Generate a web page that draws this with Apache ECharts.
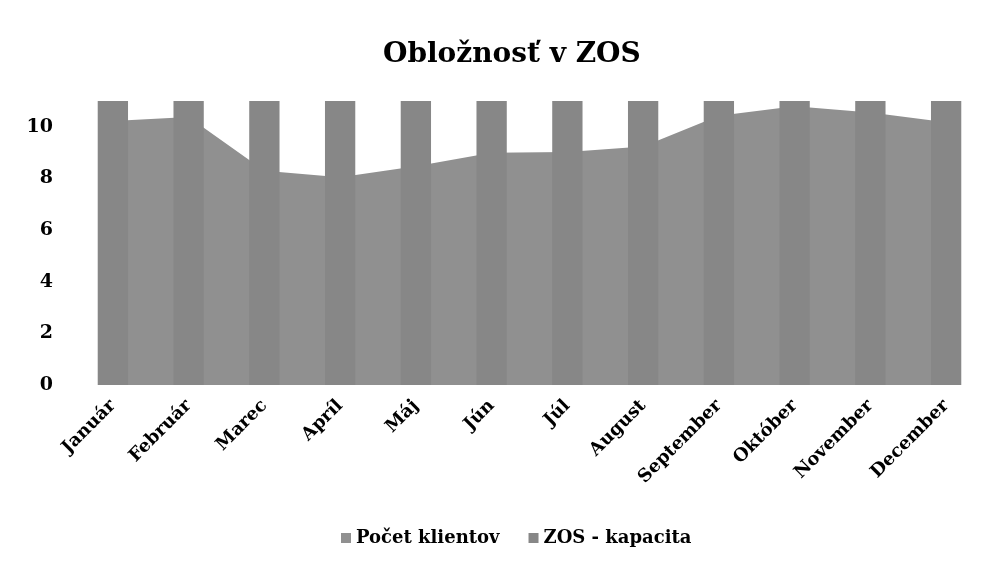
<!DOCTYPE html>
<html>
<head>
<meta charset="utf-8">
<script src="https://cdn.jsdelivr.net/npm/echarts@6/dist/echarts.min.js"></script>
<style>
  html, body { margin: 0; padding: 0; background: #fff; }
  #container { width: 998px; height: 564px; }
</style>
</head>
<body>
<div id="container"></div>
<script>
var months = ['Január', 'Február', 'Marec', 'Apríl', 'Máj', 'Jún', 'Júl', 'August', 'September', 'Október', 'November', 'December'];
var klienti = [10.23, 10.38, 8.3, 8.05, 8.47, 9.0, 9.02, 9.24, 10.43, 10.8, 10.55, 10.18];
var kapacita = [11, 11, 11, 11, 11, 11, 11, 11, 11, 11, 11, 11];

var font = 'DejaVu Serif';
var dom = document.getElementById('container');
var myChart = echarts.init(dom, null, { renderer: 'canvas' });

var option = {
  animation: false,
  title: {
    text: 'Obložnosť v ZOS',
    left: 378,
    top: 36,
    textStyle: { fontFamily: font, fontWeight: 'bold', fontSize: 28, color: '#000' }
  },
  legend: {
    bottom: 12,
    left: 336,
    icon: 'rect',
    itemWidth: 10,
    itemHeight: 10,
    itemGap: 29,
    textStyle: { fontFamily: font, fontWeight: 'bold', fontSize: 18, color: '#000' },
    data: ['Počet klientov', 'ZOS - kapacita']
  },
  grid: { left: 75, right: 14, top: 101, bottom: 179 },
  xAxis: {
    type: 'category',
    data: months,
    boundaryGap: true,
    axisLine: { show: false },
    axisTick: { show: false },
    axisLabel: {
      rotate: 45,
      margin: 18,
      fontFamily: font,
      fontWeight: 'bold',
      fontSize: 18,
      color: '#000'
    }
  },
  yAxis: {
    type: 'value',
    min: 0,
    max: 11,
    interval: 2,
    splitLine: { show: false },
    axisLine: { show: false },
    axisTick: { show: false },
    axisLabel: {
      showMaxLabel: false,
      margin: 22,
      fontFamily: font,
      fontWeight: 'bold',
      fontSize: 19,
      color: '#000'
    }
  },
  series: [
    {
      name: 'Počet klientov',
      type: 'line',
      z: 1,
      data: klienti,
      symbol: 'none',
      lineStyle: { width: 0 },
      itemStyle: { color: '#909090' },
      areaStyle: { color: '#909090', opacity: 1 }
    },
    {
      name: 'ZOS - kapacita',
      type: 'bar',
      z: 3,
      data: kapacita,
      barWidth: '40%',
      itemStyle: { color: '#878787' }
    }
  ]
};

myChart.setOption(option);
window.addEventListener('resize', myChart.resize);
</script>
</body>
</html>
